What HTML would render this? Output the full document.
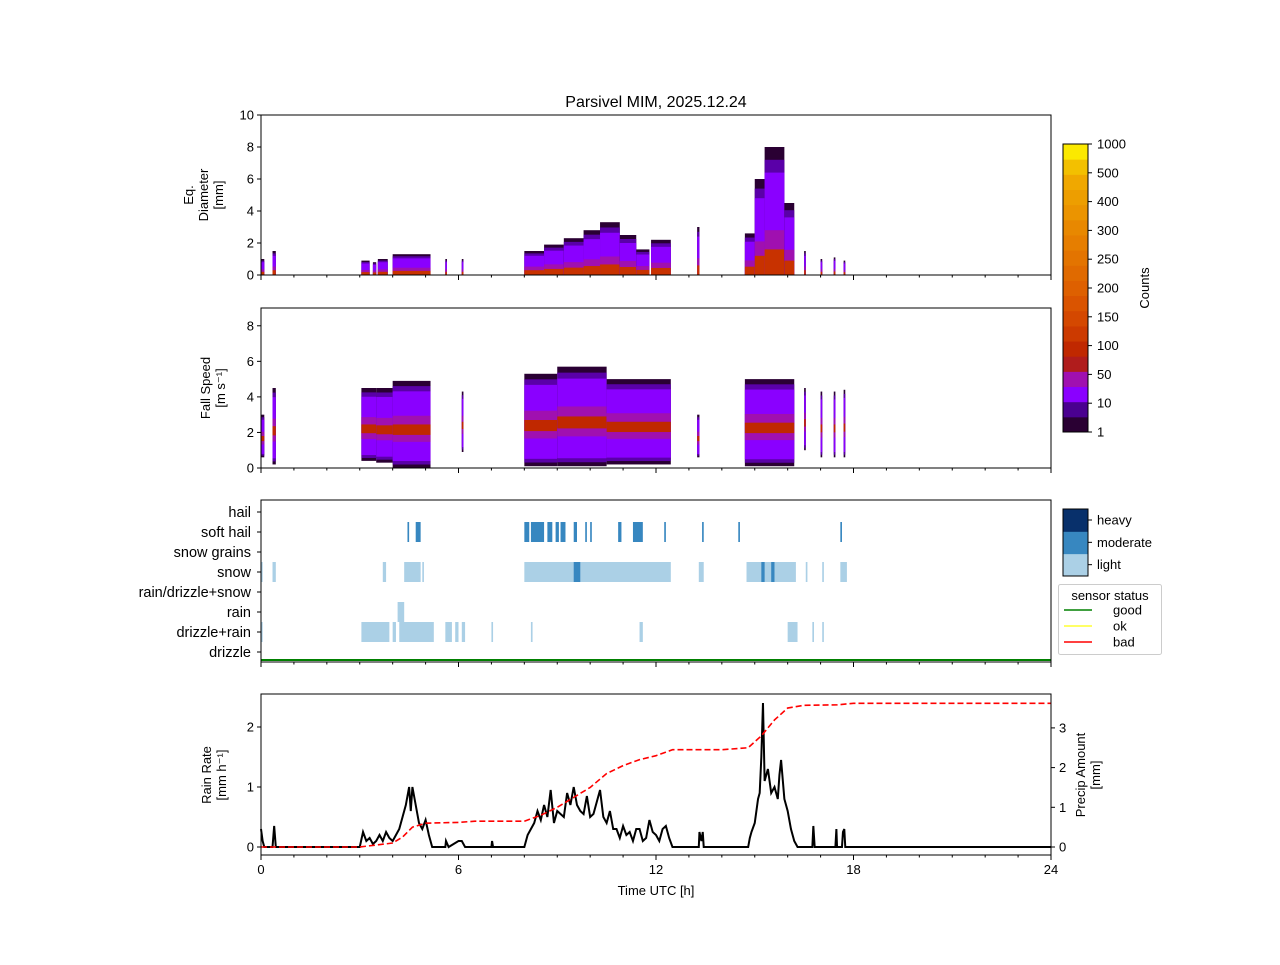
<!DOCTYPE html>
<html><head><meta charset="utf-8"><style>
body{margin:0;background:#fff}
svg{font-family:"Liberation Sans","DejaVu Sans",sans-serif;font-size:13px}
</style></head><body>
<svg id="s" width="1280" height="960" xmlns="http://www.w3.org/2000/svg">
<rect width="1280" height="960" fill="#fff"/>
<text x="656" y="107" text-anchor="middle" font-size="16">Parsivel MIM, 2025.12.24</text>
<g id="p1"></g>
<g id="p2"></g>
<g id="p3"></g>
<g id="p4"></g>
<g id="cb"></g>
<g id="lg"></g>
</svg>
<script>
// ---- data ----
const diamBlocks=[[0,0.1,1],[0.35,0.45,1.5],[3.05,3.3,0.9],[3.4,3.5,0.8],[3.55,3.85,1.0],[4.0,5.15,1.3],[5.6,5.65,1],[6.1,6.15,1],[8.0,8.6,1.5],[8.6,9.2,1.9],[9.2,9.8,2.3],[9.8,10.3,2.8],[10.3,10.9,3.3],[10.9,11.4,2.5],[11.4,11.8,1.6],[11.85,12.45,2.2],[13.25,13.32,3],[14.7,15.0,2.6],[15.0,15.3,6],[15.3,15.9,8],[15.9,16.2,4.5],[16.5,16.55,1.5],[17.0,17.05,1],[17.4,17.45,1.1],[17.7,17.75,0.9]];
const speedBlocks=[[0,0.1,3,0.6],[0.35,0.45,4.5,0.2],[3.05,3.5,4.5,0.4],[3.5,4.0,4.5,0.3],[4.0,5.15,4.9,0],[6.1,6.15,4.3,0.9],[8.0,9.0,5.3,0.1],[9.0,10.5,5.7,0.1],[10.5,12.45,5,0.2],[13.25,13.32,3,0.6],[14.7,16.2,5,0.1],[16.5,16.55,4.5,1],[17.0,17.05,4.3,0.6],[17.4,17.45,4.3,0.6],[17.7,17.75,4.4,0.6]];
const categories=["hail","soft hail","snow grains","snow","rain/drizzle+snow","rain","drizzle+rain","drizzle"];
const typeBars=[
["snow",0,0.05,"light"],["snow",0.35,0.45,"light"],["snow",3.7,3.8,"light"],["snow",4.35,4.85,"light"],["snow",4.9,4.95,"light"],["snow",8.0,12.45,"light"],["snow",9.5,9.7,"moderate"],["snow",13.3,13.45,"light"],["snow",14.75,16.25,"light"],["snow",15.2,15.3,"moderate"],["snow",15.5,15.6,"moderate"],["snow",16.55,16.6,"light"],["snow",17.05,17.1,"light"],["snow",17.6,17.8,"light"],
["soft hail",4.45,4.5,"moderate"],["soft hail",4.7,4.85,"moderate"],["soft hail",8.0,8.15,"moderate"],["soft hail",8.2,8.6,"moderate"],["soft hail",8.7,8.85,"moderate"],["soft hail",8.95,9.05,"moderate"],["soft hail",9.1,9.25,"moderate"],["soft hail",9.5,9.6,"moderate"],["soft hail",9.85,9.9,"moderate"],["soft hail",10.0,10.05,"moderate"],["soft hail",10.85,10.95,"moderate"],["soft hail",11.3,11.6,"moderate"],["soft hail",12.25,12.3,"moderate"],["soft hail",13.4,13.45,"moderate"],["soft hail",14.5,14.55,"moderate"],["soft hail",17.6,17.65,"moderate"],
["rain",4.15,4.35,"light"],
["drizzle+rain",0,0.05,"light"],["drizzle+rain",3.05,3.9,"light"],["drizzle+rain",4.0,4.1,"light"],["drizzle+rain",4.2,5.25,"light"],["drizzle+rain",5.6,5.8,"light"],["drizzle+rain",5.9,6.0,"light"],["drizzle+rain",6.1,6.2,"light"],["drizzle+rain",7.0,7.05,"light"],["drizzle+rain",8.2,8.25,"light"],["drizzle+rain",11.5,11.6,"light"],["drizzle+rain",16.0,16.3,"light"],["drizzle+rain",16.75,16.8,"light"],["drizzle+rain",17.05,17.1,"light"]];
const rainT=[0,0.05,0.1,0.35,0.4,0.45,3.0,3.1,3.2,3.3,3.4,3.5,3.6,3.7,3.8,3.9,4.0,4.1,4.2,4.3,4.4,4.5,4.55,4.6,4.7,4.8,4.9,5.0,5.1,5.2,5.6,5.62,5.7,6.0,6.1,6.2,7.0,7.02,7.05,8.0,8.1,8.2,8.3,8.4,8.5,8.6,8.7,8.8,8.9,9.0,9.1,9.2,9.3,9.4,9.5,9.6,9.7,9.8,9.9,10.0,10.1,10.2,10.3,10.4,10.5,10.6,10.7,10.8,10.9,11.0,11.1,11.2,11.3,11.4,11.5,11.6,11.7,11.8,11.9,12.0,12.1,12.2,12.3,12.4,12.5,13.3,13.32,13.38,13.42,13.45,14.8,14.85,14.9,15.0,15.1,15.15,15.2,15.25,15.3,15.4,15.5,15.6,15.7,15.75,15.8,15.9,16.0,16.1,16.2,16.3,16.75,16.78,16.82,17.45,17.48,17.5,17.65,17.68,17.72,17.75,24];
const rainV=[0.3,0.1,0,0,0.35,0,0,0.25,0.1,0.15,0.05,0.1,0.2,0.1,0.25,0.15,0.1,0.2,0.3,0.5,0.7,1.0,0.6,1.0,0.7,0.4,0.3,0.45,0.2,0,0,0.1,0,0.1,0.1,0,0,0.1,0,0,0.2,0.3,0.4,0.6,0.45,0.7,0.5,0.95,0.4,0.6,0.55,0.5,0.9,0.7,1.0,0.7,0.6,0.55,0.85,0.5,0.55,0.75,0.95,0.5,0.4,0.6,0.3,0.3,0.15,0.35,0.2,0.25,0.1,0.3,0.3,0.1,0.15,0.45,0.25,0.2,0.1,0.3,0.35,0.15,0,0,0.25,0.1,0.25,0,0,0.15,0.25,0.4,0.8,0.9,1.5,2.4,1.1,1.3,0.9,1.0,0.8,1.2,1.45,0.8,0.6,0.3,0.1,0,0,0.35,0,0,0.3,0,0,0.25,0.3,0,0];
const accT=[0,3,3.5,4,4.3,4.6,5.0,6,6.5,8,8.5,9,9.5,10,10.5,11,11.5,12,12.5,14,14.8,15.2,15.6,16,16.5,17.5,18,24];
const accV=[0,0,0.05,0.1,0.25,0.5,0.6,0.62,0.65,0.65,0.8,1.0,1.25,1.5,1.85,2.05,2.2,2.3,2.45,2.45,2.5,2.8,3.2,3.5,3.57,3.58,3.62,3.62];
const cbLabels=["1","10","50","100","150","200","250","300","400","500","1000"];
const cbColors=["#2a0033","#4a0090","#8a00ff","#a010b0","#b01c1c","#c02800","#cc3a00","#d44800","#da5400","#de6000","#e06a00","#e37400","#e67e00","#e88800","#eb9400","#ed9e00","#f0a800","#f3c000","#fbe900"];
// ---- helpers ----
const NS="http://www.w3.org/2000/svg";
function el(p,t,a,txt){const e=document.createElementNS(NS,t);for(const k in a)e.setAttribute(k,a[k]);if(txt!=null)e.textContent=txt;document.getElementById(p).appendChild(e);return e;}
const X0=261,X1=1051;const xs=h=>X0+(X1-X0)*h/24;
function frame(p,top,bot,showLbl){
  const r=el(p,"rect",{x:X0,y:top,width:X1-X0,height:bot-top,fill:"none",stroke:"#000","stroke-width":1});
  
  
  for(let h=0;h<=24;h+=6){el(p,"line",{x1:xs(h),x2:xs(h),y1:bot,y2:bot+5,stroke:"#000"});
    if(showLbl){const t=el(p,"text",{x:xs(h),y:bot+19,"text-anchor":"middle"},String(h));}}
  for(let h=1;h<24;h+=1){if(h%6)el(p,"line",{x1:xs(h),x2:xs(h),y1:bot,y2:bot+2.5,stroke:"#000"});}
}
function yticks(p,vals,ys,side){vals.forEach(v=>{const y=ys(v);const x=side?X1:X0;
  el(p,"line",{x1:x,x2:side?x+4:x-4,y1:y,y2:y,stroke:"#000"});
  const t=el(p,"text",{x:side?x+8:x-7,y:y+4.5,"text-anchor":side?"start":"end"},String(v));});}
function ylabel(p,lines,x,yc){lines.forEach((l,i)=>{const t=el(p,"text",{x:0,y:0,"text-anchor":"middle",transform:`translate(${x+i*15},${yc}) rotate(-90)`},l);});}
function heat(p,blocks,ys,hasBottom){blocks.forEach(b=>{const top=b[2],bot=hasBottom?b[3]:0;const x=xs(b[0]),w=Math.max(1.5,xs(b[1])-x);
  const span=top-bot;
  const layers=hasBottom?[["#2a0033",0,1],["#5a00a8",0.04,0.94],["#8a00ff",0.08,0.88],["#a010b0",0.3,0.6],["#c02800",0.38,0.5]]
    :[["#2a0033",0,1],["#5a00a8",0,0.9],["#8a00ff",0,0.8],["#a010b0",0,0.35],["#c83200",0,0.2]];
  layers.forEach(L=>{const y0=ys(bot+span*L[2]),y1=ys(bot+span*L[1]);const r=el(p,"rect",{x:x,y:y0,width:w,height:y1-y0,fill:L[0]});
    });});}
// Panel 1
const ys1=v=>275-16*v;
heat("p1",diamBlocks,ys1,false);
frame("p1",115,275,false);yticks("p1",[0,2,4,6,8,10],ys1,false);
ylabel("p1",["Eq.","Diameter","[mm]"],193,195);
// Panel 2
const ys2=v=>468-160/9*v;
heat("p2",speedBlocks,ys2,true);
frame("p2",308,468,false);yticks("p2",[0,2,4,6,8],ys2,false);
ylabel("p2",["Fall Speed","[m s⁻¹]"],210,388);
// Panel 3
const catY=c=>512+20*categories.indexOf(c);
const tc={light:"#abd0e6",moderate:"#3787c0",heavy:"#08306b"};
typeBars.forEach(b=>{const x=xs(b[1]);const r=el("p3","rect",{x:x,y:catY(b[0])-10,width:Math.max(1.5,xs(b[2])-x),height:20,fill:tc[b[3]]});
  });
el("p3","line",{x1:X0,x2:X1,y1:660,y2:660,stroke:"#008000","stroke-width":2});
frame("p3",500,662,false);
categories.forEach(c=>{const y=catY(c);el("p3","line",{x1:X0,x2:X0-4,y1:y,y2:y,stroke:"#000"});
  const t=el("p3","text",{x:X0-10,y:y+5,"text-anchor":"end","font-size":"14.5"},c);});
// Panel 4
const ys4=v=>847-60*v, ys4r=v=>847-39.7*v;
const accPts=accT.map((t,i)=>xs(t)+","+ys4r(accV[i])).join(" ");
const rp=rainT.map((t,i)=>xs(t)+","+ys4(rainV[i])).join(" ");
const l1=el("p4","polyline",{points:rp,fill:"none",stroke:"#000","stroke-width":2});

const l2=el("p4","polyline",{points:accPts,fill:"none",stroke:"#f00","stroke-width":1.6,"stroke-dasharray":"6,3"});

frame("p4",694,855,true);yticks("p4",[0,1,2],ys4,false);yticks("p4",[0,1,2,3],ys4r,true);
ylabel("p4",["Rain Rate","[mm h⁻¹]"],211,775);ylabel("p4",["Precip Amount","[mm]"],1085,775);
const xt=el("p4","text",{x:656,y:895,"text-anchor":"middle"},"Time UTC [h]");
// Colorbar
const cbTop=144,cbBot=432,n=cbColors.length,ch=(cbBot-cbTop)/n;
cbColors.forEach((c,i)=>{el("cb","rect",{x:1063,y:cbBot-(i+1)*ch,width:25,height:ch+0.5,fill:c});});
el("cb","rect",{x:1063,y:cbTop,width:25,height:cbBot-cbTop,fill:"none",stroke:"#000"});
cbLabels.forEach((l,i)=>{const y=cbBot-i*(cbBot-cbTop)/(cbLabels.length-1);el("cb","line",{x1:1088,x2:1092,y1:y,y2:y,stroke:"#000"});
  const t=el("cb","text",{x:1097,y:y+4.5},l);});
ylabel("cb",["Counts"],1149,288);
// Intensity colorbar
[["#abd0e6","light"],["#3787c0","moderate"],["#08306b","heavy"]].forEach((d,i)=>{const y=576-(i+1)*22.33;
  el("lg","rect",{x:1063,y:y,width:25,height:22.8,fill:d[0]});
  el("lg","line",{x1:1088,x2:1092,y1:y+11,y2:y+11,stroke:"#000"});
  const t=el("lg","text",{x:1097,y:y+15.5},d[1]);});
el("lg","rect",{x:1063,y:509,width:25,height:67,fill:"none",stroke:"#000"});
// Sensor status legend
const lb=el("lg","rect",{x:1058.5,y:584.5,width:103,height:70,fill:"#fff",stroke:"#ccc",rx:2});

el("lg","text",{x:1110,y:600,"text-anchor":"middle"},"sensor status");
[["good","#008000"],["ok","#ffff33"],["bad","#f00"]].forEach((d,i)=>{const y=610+16*i;
  el("lg","line",{x1:1064,x2:1092,y1:y,y2:y,stroke:d[1],"stroke-width":1.6});
  const t=el("lg","text",{x:1113,y:y+4.5},d[0]);});
</script>
</body></html>
